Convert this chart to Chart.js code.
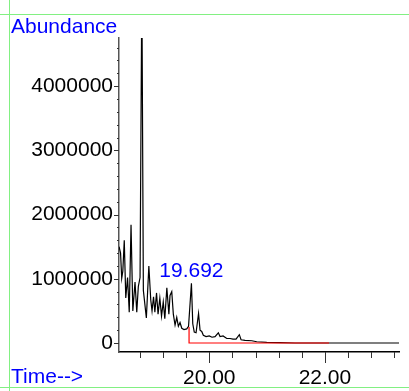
<!DOCTYPE html>
<html>
<head>
<meta charset="utf-8">
<script src="https://cdn.jsdelivr.net/npm/chart.js@4/dist/chart.umd.min.js"></script>
<style>
  html, body { margin: 0; padding: 0; background: #fff; }
  canvas { display: block; }
</style>
</head>
<body>
<canvas id="tic" width="409" height="391"></canvas>
<script>
// retention time (min) and abundance
const times = [
  18.441, 18.467, 18.487, 18.506, 18.531, 18.557, 18.588, 18.617, 18.648, 18.679,
  18.717, 18.747, 18.774, 18.804, 18.835, 18.861, 18.913, 18.956, 18.989, 19.011,
  19.037, 19.060, 19.089, 19.115, 19.146, 19.175, 19.205, 19.232, 19.267, 19.302,
  19.322, 19.352, 19.379, 19.409, 19.438, 19.466, 19.495, 19.525, 19.564, 19.611,
  19.642, 19.692, 19.715, 19.741, 19.772, 19.815, 19.841, 19.870, 19.898, 19.945,
  20.000, 20.048, 20.100, 20.157, 20.187, 20.239, 20.303, 20.360, 20.411, 20.463,
  20.520, 20.550, 20.619, 20.735, 20.821, 20.994, 21.224, 21.483, 23.280
]
const abundance = [
  1500000, 1400000, 1010000, 1120000, 1600000, 700000, 1020000, 480000, 1840000, 500000,
  950000, 480000, 880000, 1020000, 5600000, 820000, 390000, 1200000, 670000, 500000,
  720000, 480000, 780000, 450000, 700000, 420000, 640000, 380000, 860000, 450000,
  740000, 800000, 450000, 280000, 400000, 260000, 320000, 230000, 210000, 220000,
  260000, 930000, 300000, 170000, 160000, 460000, 200000, 180000, 120000, 100000,
  110000, 90000, 100000, 160000, 100000, 110000, 70000, 70000, 60000, 60000,
  130000, 50000, 40000, 35000, 20000, 10000, 5000, 0, 0
]

// integration baseline (red)
const baseTimes = [19.651, 19.651, 22.07]
const baseValues = [250000, 0, 0]

const peakTime = 19.692
const peakValue = 930000
const peakLabel = '19.692'

const yTicks = [0, 1000000, 2000000, 3000000, 4000000]
const yMinorTicks = [200000, 400000, 600000, 800000, 1200000, 1400000, 1600000, 1800000,
  2200000, 2400000, 2600000, 2800000, 3200000, 3400000, 3600000, 3800000, 4200000, 4400000, 4600000]
const xTicks = [20, 22]
const xMinorTicks = [18.8, 19.2, 19.6, 20.4, 20.8, 21.2, 21.6, 22.4, 22.8, 23.2]

const FONT = '"Liberation Sans", Arial, sans-serif'

const decorations = {
  id: 'decorations',
  beforeDraw(chart) {
    const c = chart.ctx
    c.save()
    c.strokeStyle = 'rgb(130,240,130)'
    c.lineWidth = 1
    c.beginPath()
    c.moveTo(0, 14.5); c.lineTo(409, 14.5)
    c.moveTo(0, 387.5); c.lineTo(409, 387.5)
    c.moveTo(9.5, 0); c.lineTo(9.5, 391)
    c.stroke()
    c.restore()
  },
  afterDraw(chart) {
    const c = chart.ctx
    const xs = chart.scales.x
    const ys = chart.scales.y
    const area = chart.chartArea
    c.save()
    // y tick marks
    c.strokeStyle = '#333'
    c.lineWidth = 1
    c.beginPath()
    yTicks.forEach(v => {
      const y = Math.round(ys.getPixelForValue(v)) + 0.5
      c.moveTo(area.left - 5, y); c.lineTo(area.left, y)
    })
    yMinorTicks.forEach(v => {
      const y = Math.round(ys.getPixelForValue(v)) + 0.5
      c.moveTo(area.left - 2, y); c.lineTo(area.left, y)
    })
    // x tick marks
    xTicks.forEach(v => {
      const x = Math.round(xs.getPixelForValue(v)) + 0.5
      c.moveTo(x, area.bottom); c.lineTo(x, area.bottom + 11)
    })
    xMinorTicks.forEach(v => {
      const x = Math.round(xs.getPixelForValue(v)) + 0.5
      c.moveTo(x, area.bottom); c.lineTo(x, area.bottom + 6)
    })
    c.stroke()

    // texts
    c.fillStyle = '#0000ff'
    c.font = '21px ' + FONT
    c.textAlign = 'left'
    c.textBaseline = 'alphabetic'
    c.fillText('Abundance', 11, 33)
    c.fillText('Time-->', 11, 383)
    c.textAlign = 'center'
    c.fillText(peakLabel, xs.getPixelForValue(peakTime), ys.getPixelForValue(peakValue) - 6)
    c.restore()
  }
}

new Chart(document.getElementById('tic'), {
  type: 'line',
  data: {
    datasets: [
      {
        data: baseTimes.map((t, i) => ({ x: t, y: baseValues[i] })),
        borderColor: '#ff0000',
        borderWidth: 1.2,
        pointRadius: 0,
        tension: 0,
        order: 0
      },
      {
        data: times.map((t, i) => ({ x: t, y: abundance[i] })),
        borderColor: '#000',
        borderWidth: 1.2,
        pointRadius: 0,
        tension: 0,
        order: 1
      }
    ]
  },
  options: {
    responsive: false,
    animation: false,
    events: [],
    layout: { padding: { left: 0, top: 38, right: 10, bottom: 0 } },
    plugins: { legend: { display: false }, tooltip: { enabled: false } },
    scales: {
      x: {
        type: 'linear',
        min: 18.44,
        max: 23.28,
        grid: { display: false, drawTicks: false },
        border: { color: '#000', width: 1.5 },
        afterBuildTicks: s => { s.ticks = xTicks.map(v => ({ value: v })) },
        afterFit: s => { s.height = 391 - 352 },
        ticks: {
          color: '#000',
          font: { family: FONT, size: 21 },
          padding: 14,
          maxRotation: 0,
          callback: v => v.toFixed(2)
        }
      },
      y: {
        type: 'linear',
        min: -140000,
        max: 4750000,
        grid: { display: false, drawTicks: false },
        border: { color: '#555', width: 1.5 },
        afterBuildTicks: s => { s.ticks = yTicks.map(v => ({ value: v })) },
        afterFit: s => { s.width = 119 },
        ticks: {
          color: '#000',
          font: { family: FONT, size: 21 },
          padding: 6,
          callback: v => String(v)
        }
      }
    }
  },
  plugins: [decorations]
})
</script>
</body>
</html>
